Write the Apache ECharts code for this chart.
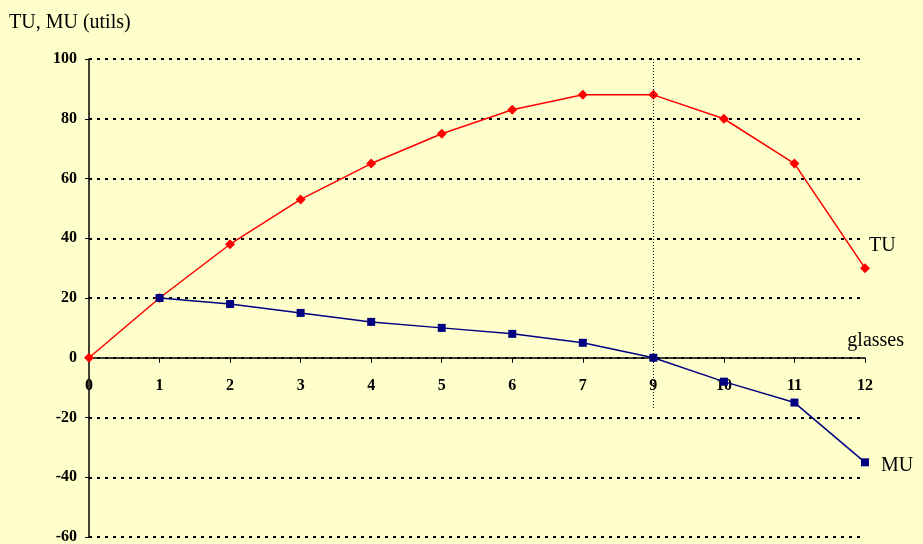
<!DOCTYPE html>
<html>
<head>
<meta charset="utf-8">
<script src="https://cdn.jsdelivr.net/npm/echarts@6/dist/echarts.min.js"></script>
<style>
  html, body { margin: 0; padding: 0; background: #FFFFCC; }
  #chart { width: 923px; height: 544px; }
</style>
</head>
<body>
<div id="chart"></div>
<script>
// Glasses consumed (the x-axis skips 8 as printed on the axis)
const glasses = ['0', '1', '2', '3', '4', '5', '6', '7', '9', '10', '11', '12'];
// Total utility per quantity
const totalUtility = [0, 20, 38, 53, 65, 75, 83, 88, 88, 80, 65, 30];
// Marginal utility per quantity (none at zero glasses)
const marginalUtility = [null, 20, 18, 15, 12, 10, 8, 5, 0, -8, -15, -35];
const yTicks = { min: -60, max: 100, interval: 20 };

const serif = '"Liberation Serif", "Times New Roman", serif';

function withEndLabel(values, text, opts) {
  return values.map((v, i) => i === values.length - 1
    ? { value: v, label: Object.assign({ show: true, formatter: text,
        fontFamily: serif, fontSize: 20, color: '#000' }, opts) }
    : v);
}

const chart = echarts.init(document.getElementById('chart'), null, { renderer: 'canvas' });
chart.setOption({
  backgroundColor: '#FFFFCC',
  animation: false,
  grid: { left: 89, right: 58, top: 59, bottom: 7, containLabel: false, outerBoundsMode: 'none' },
  xAxis: {
    type: 'category',
    data: glasses,
    boundaryGap: false,
    axisLine: { onZero: true, lineStyle: { color: '#000', width: 1.5 } },
    axisTick: { show: true, length: 5, inside: false, lineStyle: { color: '#000' } },
    // labels sit just under the zero line rather than at the grid's bottom edge
    axisLabel: { margin: -159, fontFamily: serif, fontWeight: 'bold', fontSize: 16, color: '#000' },
    splitLine: { show: false }
  },
  yAxis: {
    type: 'value',
    min: yTicks.min, max: yTicks.max, interval: yTicks.interval,
    name: 'TU, MU (utils)',
    nameLocation: 'end',
    nameGap: 26,
    nameTextStyle: { fontFamily: serif, fontSize: 20, color: '#000', align: 'left', padding: [0, 0, 0, -80] },
    axisLine: { show: true, onZero: false, lineStyle: { color: '#000', width: 1.5 } },
    axisTick: { show: true, length: 4, lineStyle: { color: '#000' } },
    axisLabel: { margin: 12, fontFamily: serif, fontWeight: 'bold', fontSize: 16, color: '#000' },
    splitLine: {
      show: true,
      lineStyle: { color: '#000', type: [3, 5], width: 2.2 }
    }
  },
  graphic: [{
    type: 'text', right: 19, top: 331,
    style: { text: 'glasses', fontFamily: serif, fontSize: 20, fill: '#000' }
  }],
  series: [
    {
      name: 'TU',
      type: 'line',
      data: withEndLabel(totalUtility, 'TU', { position: 'right', offset: [-6, -22] }),
      symbol: 'diamond',
      symbolSize: 10,
      lineStyle: { color: '#FF0000', width: 1.5 },
      itemStyle: { color: '#FF0000' },
      z: 3,
      markLine: {
        silent: true,
        symbol: 'none',
        label: { show: false },
        lineStyle: { color: '#000', type: [1, 2], width: 1 },
        data: [[{ coord: ['9', 100] }, { coord: ['9', -17] }]]
      }
    },
    {
      name: 'MU',
      type: 'line',
      data: withEndLabel(marginalUtility, 'MU', { position: 'right', distance: 12, offset: [0, 3] }),
      symbol: 'rect',
      symbolSize: 8,
      lineStyle: { color: '#000080', width: 1.5 },
      itemStyle: { color: '#000080' },
      z: 4
    }
  ]
});
</script>
</body>
</html>
